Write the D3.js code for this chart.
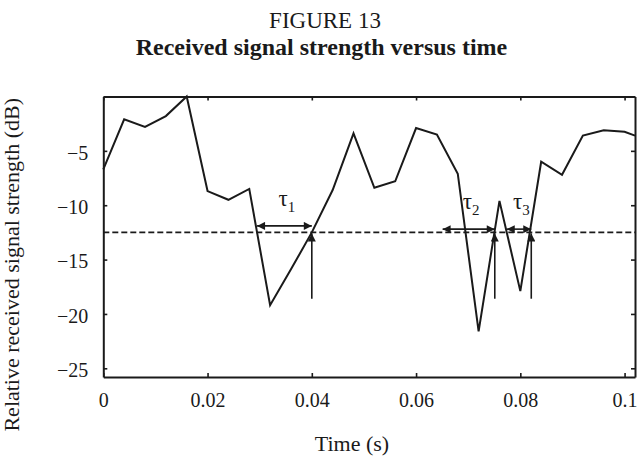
<!DOCTYPE html>
<html>
<head>
<meta charset="utf-8">
<script src="https://cdn.jsdelivr.net/npm/d3@7"></script>
<style>
  html, body { margin: 0; padding: 0; background: #fff; }
  svg { display: block; }
  text { font-family: "Liberation Serif", "Times New Roman", serif; fill: #1a1a1a; }
</style>
</head>
<body>
<svg id="chart" width="638" height="461"></svg>
<script>
// Received signal strength samples (time in s, level in dB)
const times = [0, 0.004, 0.008, 0.012, 0.016, 0.020, 0.024, 0.028, 0.032, 0.036,
               0.040, 0.044, 0.048, 0.052, 0.056, 0.060, 0.064, 0.068, 0.072, 0.076,
               0.080, 0.084, 0.088, 0.092, 0.096, 0.100, 0.102];
const levels = [-6.7, -2.1, -2.8, -1.8, 0, -8.7, -9.5, -8.5, -19.2, -15.9,
                -12.5, -8.6, -3.4, -8.4, -7.8, -2.9, -3.5, -7.1, -21.6, -9.6,
                -17.9, -6.0, -7.2, -3.6, -3.1, -3.25, -3.6];

// Threshold level and fade-duration annotations
const threshold = -12.5;
const fadeStarts = [0.0295, 0.0651, 0.0774];
const fadeEnds = [0.0400, 0.0751, 0.0821];
const fadeArrowLevels = [-11.9, -12.2, -12.2];
const fadeLabels = ["1", "2", "3"];
const markerBottom = -18.6;

const xTicks = [0, 0.02, 0.04, 0.06, 0.08, 0.1];
const xTickLabels = ["0", "0.02", "0.04", "0.06", "0.08", "0.1"];
const yTicks = [-5, -10, -15, -20, -25];
const yTickLabels = ["\u22125", "\u221210", "\u221215", "\u221220", "\u221225"];

const svg = d3.select("#chart");
const ink = "#1a1a1a";

const x = d3.scaleLinear().domain([0, 0.102]).range([103.3, 635]);
const y = d3.scaleLinear().domain([-25.8, 0]).range([377, 96.5]);

// Titles
svg.append("text").attr("x", 325).attr("y", 28).attr("text-anchor", "middle")
  .style("font-size", "23px").text("FIGURE 13");
svg.append("text").attr("x", 321.5).attr("y", 55).attr("text-anchor", "middle")
  .style("font-size", "24px").style("font-weight", "bold")
  .text("Received signal strength versus time");

// Axes (inward ticks on all four sides)
const tickLen = 4;
const g = svg.append("g");
const xAxisB = d3.axisBottom(x).tickValues(xTicks).tickSizeInner(-tickLen).tickSizeOuter(0)
  .tickFormat((d, i) => xTickLabels[i]).tickPadding(12);
const xAxisT = d3.axisTop(x).tickValues(xTicks).tickSizeInner(-tickLen).tickSizeOuter(0).tickFormat("");
const yAxisL = d3.axisLeft(y).tickValues(yTicks).tickSizeInner(-tickLen).tickSizeOuter(0)
  .tickFormat((d, i) => yTickLabels[i]).tickPadding(15);
const yAxisR = d3.axisRight(y).tickValues(yTicks).tickSizeInner(-tickLen).tickSizeOuter(0).tickFormat("");

function styleAxis(sel) {
  sel.select(".domain").attr("stroke", ink).attr("stroke-width", 2);
  sel.selectAll(".tick line").attr("stroke", ink).attr("stroke-width", 1.6);
  sel.selectAll(".tick text").style("font-size", "20px")
    .style("font-family", '"Liberation Serif", "Times New Roman", serif').attr("fill", ink);
}

g.append("g").attr("transform", `translate(0,${y.range()[0]})`).call(xAxisB).call(styleAxis)
  .selectAll(".tick text").attr("dy", "0.9em");
g.append("g").attr("transform", `translate(0,${y.range()[1]})`).call(xAxisT).call(styleAxis);
g.append("g").attr("transform", `translate(${x.range()[0]},0)`).call(yAxisL).call(styleAxis)
  .selectAll(".tick text").attr("dy", "0.42em");
g.append("g").attr("transform", `translate(${x.range()[1]},0)`).call(yAxisR).call(styleAxis);

// Axis titles
svg.append("text").attr("x", 352).attr("y", 451).attr("text-anchor", "middle")
  .style("font-size", "22px").text("Time (s)");
svg.append("text").attr("transform", "translate(19,98) rotate(-90)")
  .attr("text-anchor", "end").style("font-size", "22px")
  .text("Relative received signal strength (dB)");

// Threshold
svg.append("line")
  .attr("x1", x.range()[0]).attr("x2", x.range()[1])
  .attr("y1", y(threshold)).attr("y2", y(threshold))
  .attr("stroke", ink).attr("stroke-width", 1.8).attr("stroke-dasharray", "6,3");

// Signal trace
const pts = times.map((t, i) => [t, levels[i]]);
svg.append("path").datum(pts)
  .attr("fill", "none").attr("stroke", ink).attr("stroke-width", 2)
  .attr("stroke-linejoin", "miter")
  .attr("d", d3.line().x(d => x(d[0])).y(d => y(d[1])));

// Arrow heads
const defs = svg.append("defs");
defs.append("marker").attr("id", "head").attr("viewBox", "0 0 10 10")
  .attr("refX", 10).attr("refY", 5).attr("markerUnits", "userSpaceOnUse")
  .attr("markerWidth", 9).attr("markerHeight", 8).attr("orient", "auto-start-reverse")
  .append("path").attr("d", "M0,0 L10,5 L0,10 Z").attr("fill", ink);

// Fade-duration arrows and labels
fadeStarts.forEach((s, i) => {
  const e = fadeEnds[i];
  const lv = fadeArrowLevels[i];
  svg.append("line")
    .attr("x1", x(s)).attr("x2", x(e)).attr("y1", y(lv)).attr("y2", y(lv))
    .attr("stroke", ink).attr("stroke-width", 1.6)
    .attr("marker-start", "url(#head)").attr("marker-end", "url(#head)");
  svg.append("line")
    .attr("x1", x(e)).attr("x2", x(e)).attr("y1", y(markerBottom)).attr("y2", y(threshold) + 1)
    .attr("stroke", ink).attr("stroke-width", 1.6)
    .attr("marker-end", "url(#head)");
  const lbl = svg.append("text").attr("x", x((s + e) / 2) - 6).attr("y", y(lv) - 20)
    .style("font-size", "23px");
  lbl.append("tspan").text("\u03c4");
  lbl.append("tspan").attr("dy", 6).style("font-size", "15px").text(fadeLabels[i]);
});
</script>
</body>
</html>
